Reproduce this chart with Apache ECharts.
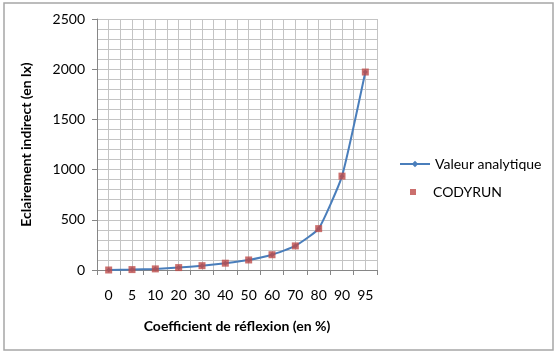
<!DOCTYPE html>
<html>
<head>
<meta charset="utf-8">
<script src="https://cdn.jsdelivr.net/npm/echarts@6/dist/echarts.min.js"></script>
<style>
  html, body { margin: 0; padding: 0; background: #fff; }
  #chart { width: 557px; height: 352px; }
</style>
</head>
<body>
<div id="chart"></div>
<script>
// reflection coefficient (%) on the x axis
const categories = ['0', '5', '10', '20', '30', '40', '50', '60', '70', '80', '90', '95'];
// indirect illuminance in lx
const analytique = [0, 4, 11, 24, 43, 68, 100, 152, 240, 412, 935, 1972];
const codyrun = [0, 4, 11, 24, 43, 68, 100, 152, 240, 412, 935, 1972];
const yTicks = { min: 0, max: 2500, step: 500 };

const gridColor = '#c4c4c4';
const axisColor = '#868686';
const font = 'Lato, "Open Sans", sans-serif';

const chart = echarts.init(document.getElementById('chart'));

chart.setOption({
    animation: false,
    backgroundColor: '#fff',
    textStyle: { fontFamily: font },
    graphic: [{
        type: 'rect',
        shape: { x: 4, y: 3, width: 549, height: 347 },
        style: { fill: 'none', stroke: '#a6a6a6', lineWidth: 1.5 }
    }],
    grid: { left: 97, right: 180, top: 19, bottom: 82 },
    legend: [{
        data: ['Valeur analytique'],
        left: 399, top: 157, padding: 0,
        itemWidth: 30, itemHeight: 8,
        textStyle: { fontSize: 14, color: '#000', fontFamily: font }
    }, {
        data: [{ name: 'CODYRUN', icon: 'rect' }],
        left: 410, top: 185, padding: 0,
        itemWidth: 6, itemHeight: 6,
        textStyle: { fontSize: 14, color: '#000', fontFamily: font, padding: [0, 0, 0, 12] }
    }],
    xAxis: [{
        type: 'category',
        data: categories,
        boundaryGap: true,
        name: 'Coefficient de réflexion (en %)',
        nameLocation: 'middle',
        nameGap: 49,
        nameTextStyle: { fontSize: 14, fontWeight: 'bold', color: '#000' },
        axisLine: { lineStyle: { color: axisColor } },
        axisTick: { show: true, interval: 0, length: 5, lineStyle: { color: axisColor } },
        axisLabel: { fontSize: 14, color: '#000', margin: 18, interval: 0 },
        splitLine: { show: false }
    }, {
        // helper axis for the half-category vertical gridlines
        type: 'value',
        min: 0, max: categories.length * 2, interval: 1,
        show: true,
        axisLine: { show: false },
        axisTick: { show: false },
        axisLabel: { show: false },
        splitLine: { show: true, lineStyle: { color: gridColor, width: 1 } }
    }],
    yAxis: {
        type: 'value',
        min: yTicks.min, max: yTicks.max, interval: yTicks.step,
        name: 'Eclairement indirect (en lx)',
        nameLocation: 'middle',
        nameGap: 64,
        nameRotate: 90,
        nameTextStyle: { fontSize: 14, fontWeight: 'bold', color: '#000' },
        axisLine: { show: true, lineStyle: { color: axisColor } },
        axisTick: { show: true, length: 5, lineStyle: { color: axisColor } },
        axisLabel: { fontSize: 14, color: '#000', margin: 12, formatter: v => String(v) },
        splitLine: { show: true, lineStyle: { color: gridColor } },
        minorTick: { show: false, splitNumber: 5 },
        minorSplitLine: { show: true, lineStyle: { color: gridColor } }
    },
    series: [{
        name: 'Valeur analytique',
        type: 'line',
        data: analytique,
        smooth: 0.15,
        symbol: 'diamond',
        symbolSize: 5,
        lineStyle: { color: '#4a7ebb', width: 2 },
        itemStyle: { color: '#4a7ebb' },
        z: 3
    }, {
        name: 'CODYRUN',
        type: 'scatter',
        data: codyrun,
        symbol: 'rect',
        symbolSize: 7,
        itemStyle: { color: '#be4b48' },
        z: 4
    }]
});
</script>
</body>
</html>
